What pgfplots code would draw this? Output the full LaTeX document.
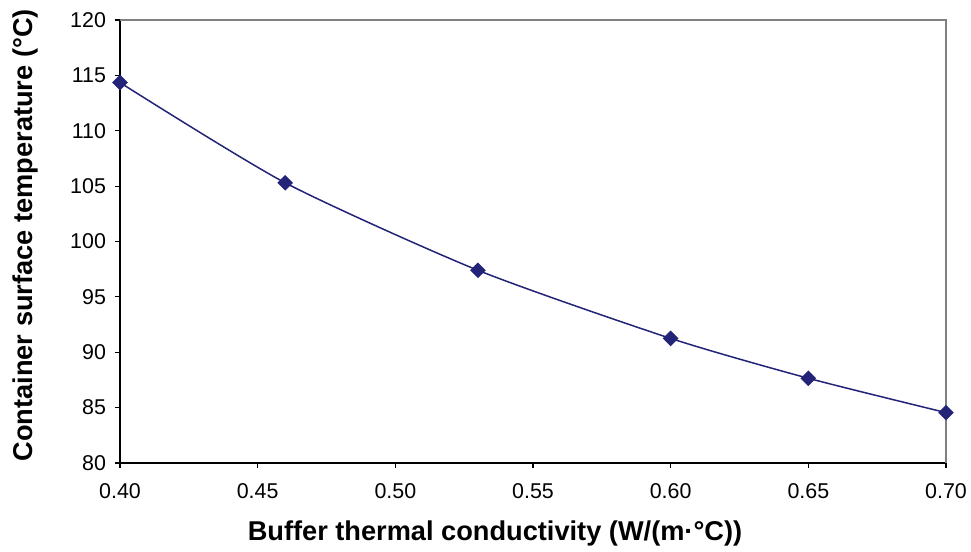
\documentclass[border=0pt]{standalone}
\usepackage{fontspec}
\setmainfont{Liberation Sans}
\usepackage{pgfplots}
\pgfplotsset{compat=1.18}
\definecolor{navy}{RGB}{35,35,120}
\definecolor{boxgray}{RGB}{128,128,128}
\begin{document}
\begin{tikzpicture}
\begin{axis}[
  scale only axis,
  width=413pt, height=221.5pt,
  xmin=0.40, xmax=0.70, ymin=80, ymax=120,
  xtick={0.40,0.45,0.50,0.55,0.60,0.65,0.70},
  ytick={80,85,...,120},
  axis x line*=bottom, axis y line*=left,
  axis line style={black, line width=0.6pt, -},
  tick align=outside, major tick length=2.5pt,
  tick style={black, line width=0.6pt},
  /pgf/number format/assume math mode=true,
  xticklabel style={/pgf/number format/.cd, fixed, fixed zerofill, precision=2},
  yticklabel style={/pgf/number format/.cd, fixed},
  ticklabel style={font=\fontsize{10.7}{12}\selectfont},
  xticklabel shift=4pt, yticklabel shift=1pt,
  every axis x label/.style={at={(rel axis cs:0.454,0)}, yshift=-35pt, anchor=center},
  every axis y label/.style={at={(rel axis cs:0,0.514)}, xshift=-47.5pt, rotate=90, anchor=center},
  label style={font=\bfseries\fontsize{13.6}{15}\selectfont},
  xlabel={Buffer thermal conductivity (W/(m·°C))},
  ylabel={Container surface temperature (°C)},
  clip=false,
]
\draw[boxgray, line width=0.75pt] (rel axis cs:0,1) -- (rel axis cs:1,1) -- (rel axis cs:1,0);
\addplot[navy, line width=0.75pt, smooth, tension=0.4, mark=square*, mark size=2.4pt, mark options={rotate=45, fill=navy, draw=navy}]
coordinates {
(0.40,114.35) (0.46,105.3) (0.53,97.4) (0.60,91.25) (0.65,87.65) (0.70,84.55)
};
\coordinate (sw) at (rel axis cs:0,0);
\coordinate (ne) at (rel axis cs:1,1);
\end{axis}
\pgfresetboundingbox
\path ([shift={(-60pt,-44.5pt)}]sw) rectangle ([shift={(12.5pt,10pt)}]ne);
\end{tikzpicture}
\end{document}
